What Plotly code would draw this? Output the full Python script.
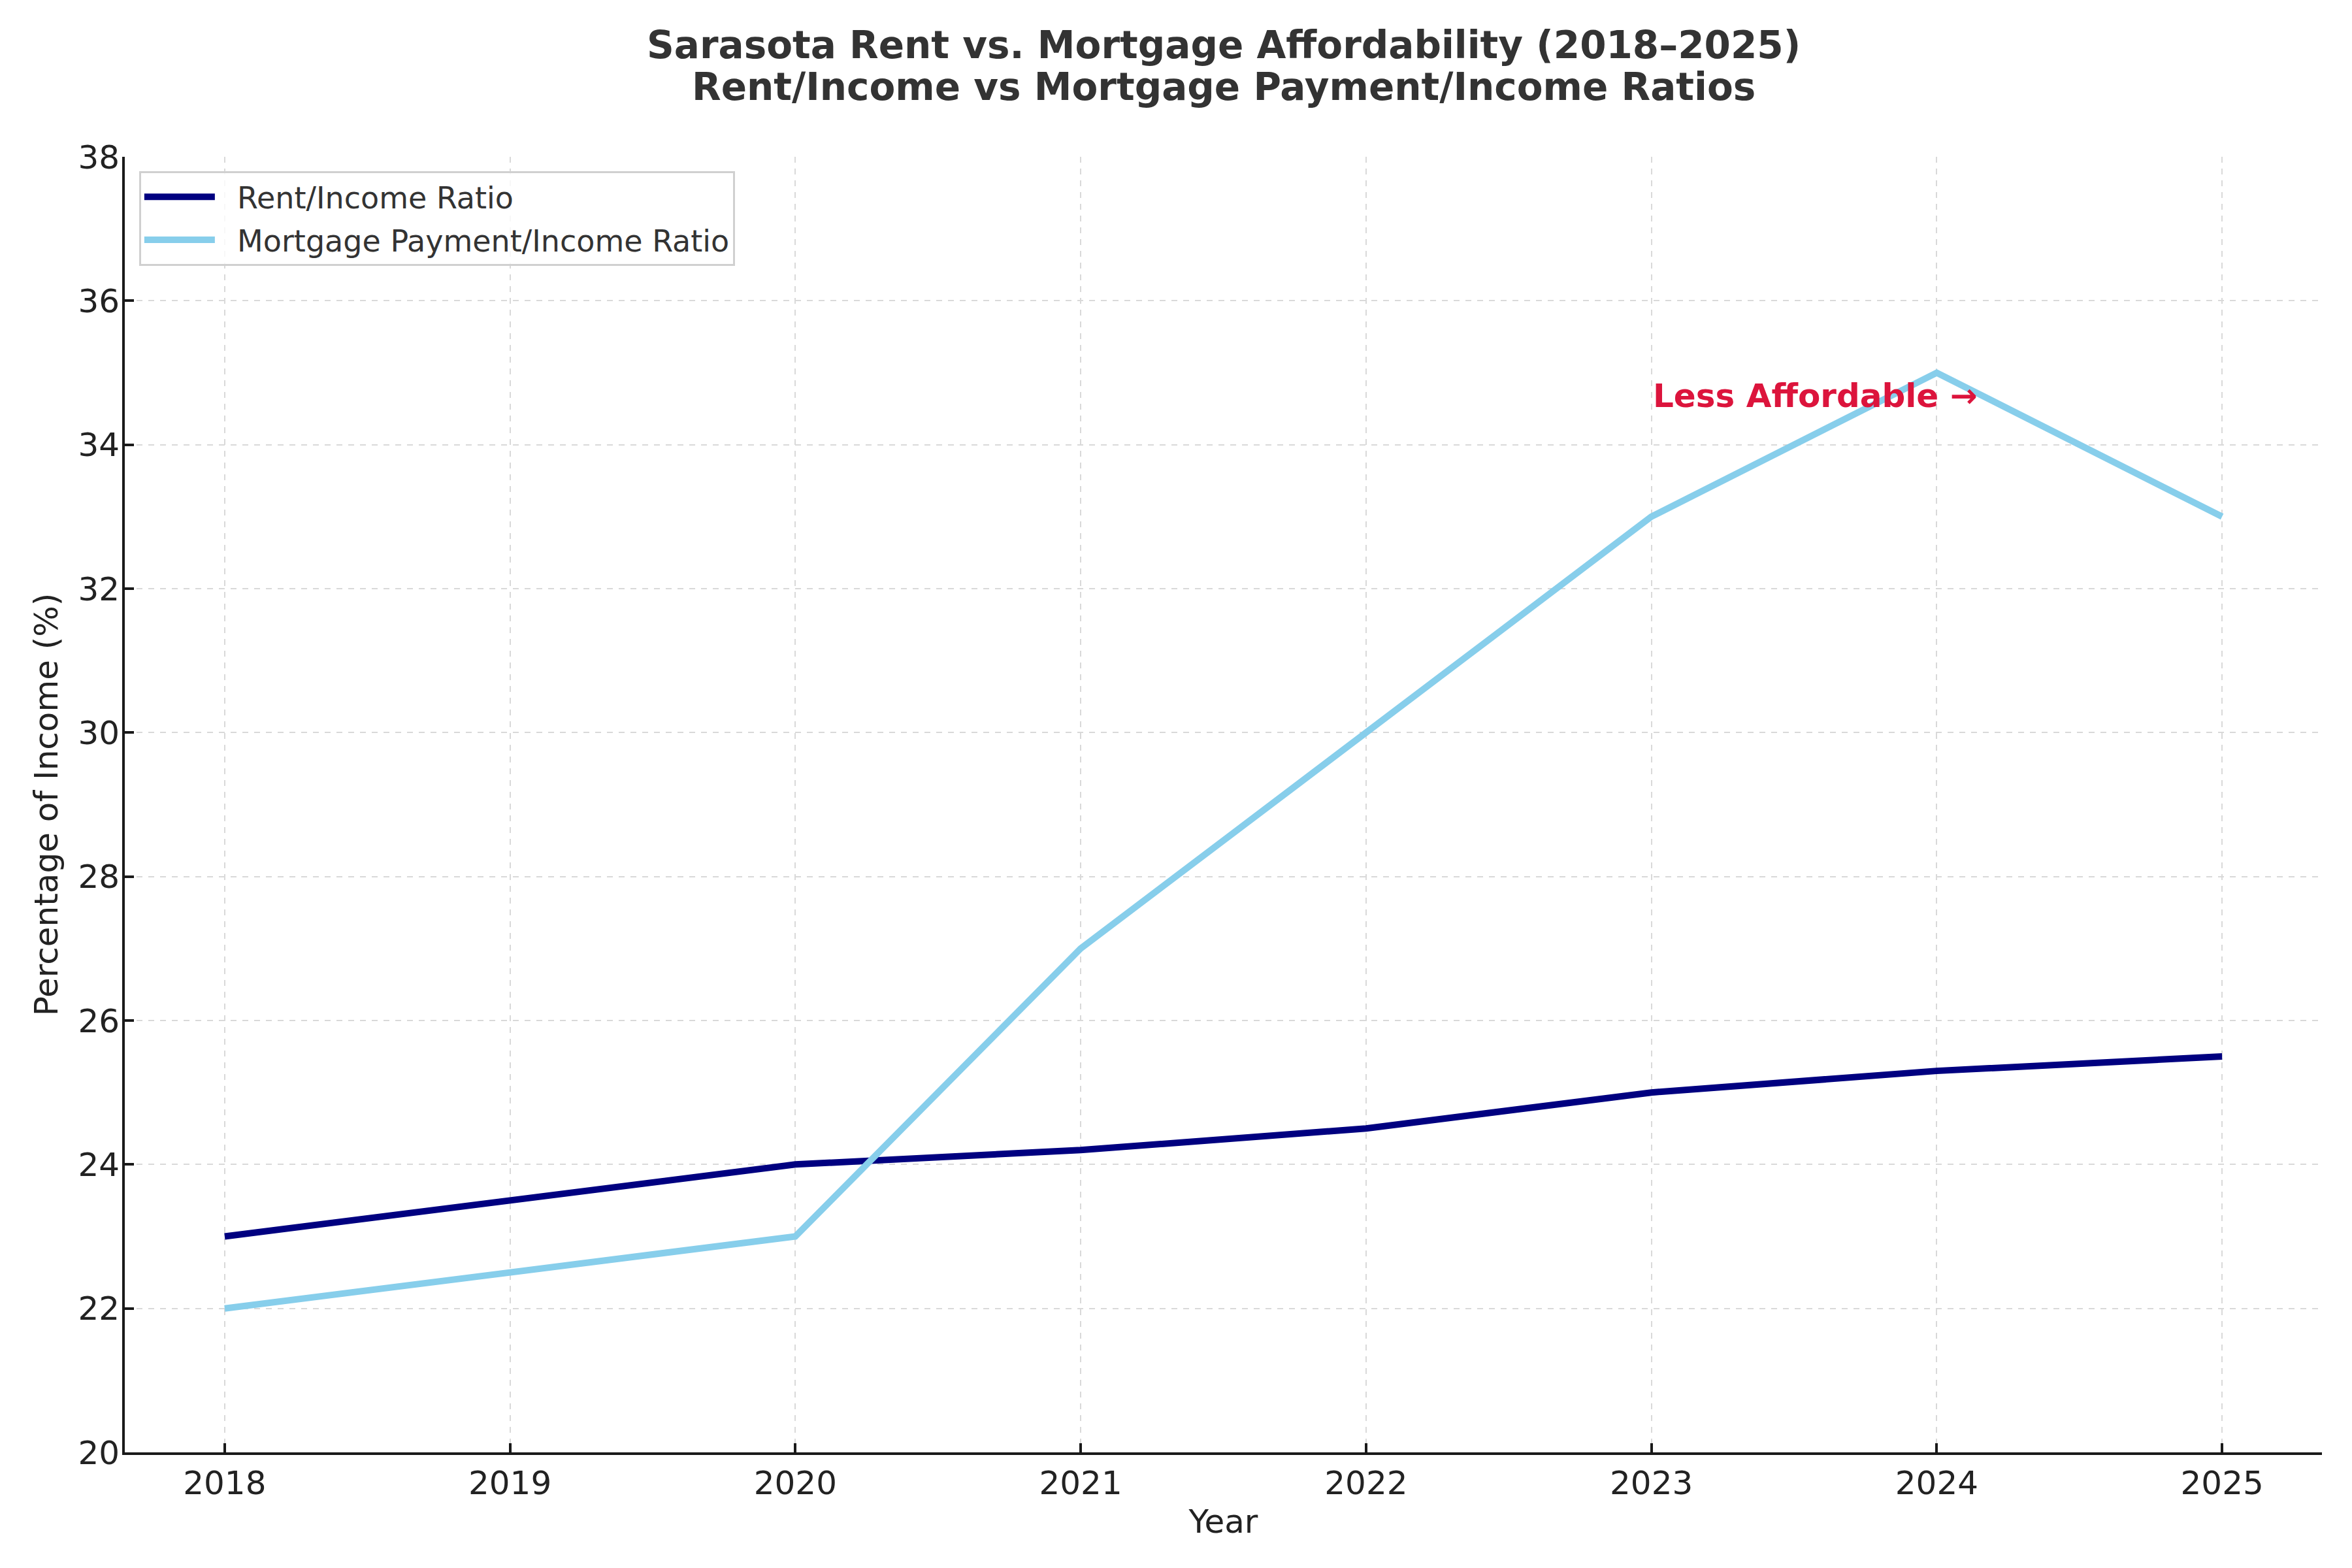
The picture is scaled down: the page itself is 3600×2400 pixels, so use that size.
import plotly.graph_objects as go

years = [2018, 2019, 2020, 2021, 2022, 2023, 2024, 2025]
rent_ratio = [23.0, 23.5, 24.0, 24.2, 24.5, 25.0, 25.3, 25.5]
mortgage_ratio = [22.0, 22.5, 23.0, 27.0, 30.0, 33.0, 35.0, 33.0]
y_ticks = [20, 22, 24, 26, 28, 30, 32, 34, 36, 38]
series_names = ["Rent/Income Ratio", "Mortgage Payment/Income Ratio"]
title_line1 = "Sarasota Rent vs. Mortgage Affordability (2018–2025)"
title_line2 = "Rent/Income vs Mortgage Payment/Income Ratios"

FONT = "DejaVu Sans"
H = 2400
T, B = 240, 177
PLOT_H = H - T - B
PAD = "\u00a0\u00a0"

fig = go.Figure()
fig.add_trace(go.Scatter(x=years, y=rent_ratio, mode="lines", name=PAD + series_names[0],
                         legendgroup="a",
                         line=dict(color="#000080", width=10)))
fig.add_trace(go.Scatter(x=years, y=mortgage_ratio, mode="lines", name=PAD + series_names[1],
                         legendgroup="b",
                         line=dict(color="#87CEEB", width=10)))

fig.add_annotation(x=2023, y=34.5, xref="x", yref="y", text="<b>Less Affordable →</b>",
                   showarrow=False, xanchor="left", yanchor="bottom", yshift=-11,
                   font=dict(family=FONT, size=50, color="#DC143C"))

# second title line
fig.add_annotation(x=0.5, y=1 + (T - 133) / PLOT_H, xref="paper", yref="paper",
                   text="<b>" + title_line2 + "</b>", showarrow=False,
                   xanchor="center", yanchor="middle",
                   font=dict(family=FONT, size=58, color="#333333"))

fig.update_layout(
    width=3600, height=H,
    paper_bgcolor="white", plot_bgcolor="white",
    margin=dict(l=191, r=46, t=T, b=B),
    font=dict(family=FONT, size=50, color="#222222"),
    title=dict(text="<b>" + title_line1 + "</b>",
               x=0.5203, xanchor="center", yref="container", y=1 - 69 / H, yanchor="middle",
               font=dict(family=FONT, size=58, color="#333333")),
    legend=dict(x=0.0065, y=0.989, xanchor="left", yanchor="top",
                bgcolor="rgba(255,255,255,0.8)", bordercolor="#d0d0d0", borderwidth=3,
                font=dict(family=FONT, size=46, color="#333333"), itemwidth=108,
                tracegroupgap=3),
    showlegend=True,
)

fig.update_xaxes(
    range=[2017.65, 2025.35], tickmode="array", tickvals=years, ticktext=[str(y) for y in years],
    showline=True, linecolor="#1a1a1a", linewidth=4, mirror=False,
    ticks="inside", ticklen=14, tickwidth=4, tickcolor="#1a1a1a",
    showgrid=True, gridcolor="#d9d9d9", gridwidth=2, griddash="dash",
    zeroline=False,
    title=dict(text="Year", font=dict(family=FONT, size=50, color="#222222"), standoff=14),
    tickfont=dict(family=FONT, size=50, color="#222222"),
)
fig.update_yaxes(
    range=[20, 38], tickmode="array", tickvals=y_ticks,
    showline=True, linecolor="#1a1a1a", linewidth=4, mirror=False,
    ticks="inside", ticklen=14, tickwidth=4, tickcolor="#1a1a1a",
    ticklabelstandoff=-6,
    showgrid=True, gridcolor="#d9d9d9", gridwidth=2, griddash="dash",
    zeroline=False,
    title=dict(text="Percentage of Income (%)", font=dict(family=FONT, size=50, color="#222222"), standoff=16),
    tickfont=dict(family=FONT, size=50, color="#222222"),
)

fig.write_html("out.html")
